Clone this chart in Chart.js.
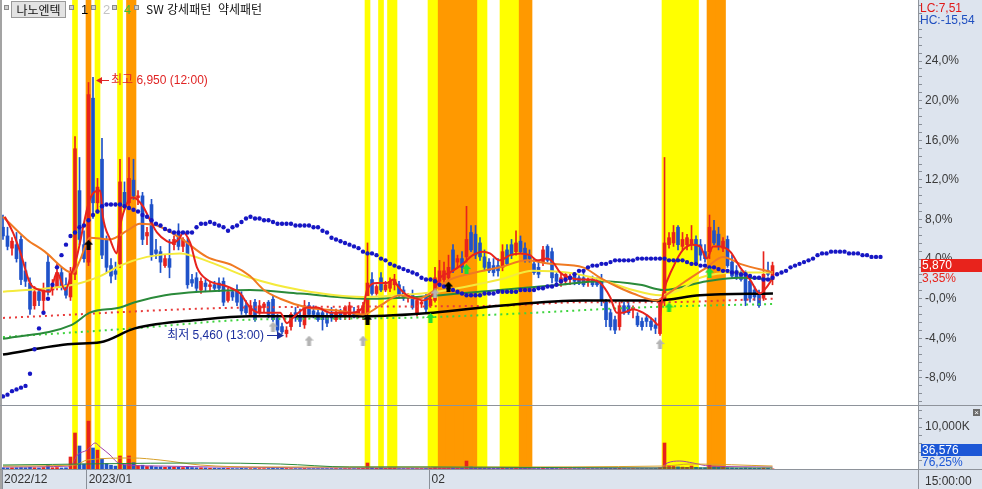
<!DOCTYPE html>
<html lang="ko">
<head>
<meta charset="utf-8">
<title>나노엔텍</title>
<script src="https://cdn.jsdelivr.net/npm/chart.js@4.4.1/dist/chart.umd.min.js"></script>
<style>
  html, body { margin: 0; padding: 0; background: #fff; }
  body { position: relative; width: 982px; height: 489px; overflow: hidden;
         font-family: "Liberation Sans", "Noto Sans CJK KR", sans-serif; font-size: 12px; }
  .abs { position: absolute; white-space: nowrap; line-height: 12px; z-index: 3; }
  .bg { position: absolute; background: #dde4ee; z-index: 0; }
  canvas { position: absolute; left: 0; z-index: 1; }
  .ln { position: absolute; background: #8e939b; z-index: 2; }
  .sq { position: absolute; top: 5px; width: 3px; height: 3px; background: #cfcfcf; border: 1px solid #8a8a8a; z-index: 3; }
  .kr { font-family: "Noto Sans CJK KR", sans-serif; }
</style>
</head>
<body>
<div class="bg" style="left:918px;top:0;width:64px;height:489px"></div>
<div class="bg" style="left:0;top:469px;width:982px;height:20px"></div>

<canvas id="mainChart" width="982" height="406" style="top:0"></canvas>
<canvas id="volChart" width="982" height="83" style="top:406px"></canvas>

<div class="ln" style="left:0;top:0;width:2px;height:489px;background:#a3a3a3"></div>
<div class="ln" style="left:0;top:405px;width:982px;height:1px"></div>
<div class="ln" style="left:0;top:469px;width:982px;height:1px"></div>
<div class="ln" style="left:918px;top:0;width:1px;height:489px"></div>

<!-- legend row -->
<div class="sq" style="left:4px"></div>
<div class="abs kr" style="left:11px;top:1px;width:53px;height:15px;line-height:15px;background:#e3e3e3;border:1px solid #9a9a9a;text-align:center;font-size:12px;color:#111">나노엔텍</div>
<div class="sq" style="left:69px"></div>
<div class="abs" style="left:81px;top:4px;color:#000;font-size:13px">1</div>
<div class="sq" style="left:91px"></div>
<div class="abs" style="left:103px;top:4px;color:#c4c4c4;font-size:13px">2</div>
<div class="sq" style="left:112px"></div>
<div class="abs" style="left:124px;top:4px;color:#44c23a;font-size:13px">4</div>
<div class="sq" style="left:134px"></div>
<div class="abs kr" style="left:146px;top:3px;color:#111">SW 강세패턴</div>
<div class="abs kr" style="left:218px;top:3px;color:#111">약세패턴</div>

<!-- right axis info -->
<div class="abs" style="left:920px;top:2px;color:#e01818">LC:7,51</div>
<div class="abs" style="left:920px;top:14px;color:#1f4fc0">HC:-15,54</div>
<div class="abs" style="left:921px;top:259px;width:61px;height:13px;line-height:13px;background:#e8231c;color:#fff;padding-left:1px">5,870</div>
<div class="abs" style="left:922px;top:272px;color:#e8231c">3,35%</div>
<div class="abs" style="left:921px;top:444px;width:61px;height:12px;background:#1c57d6;color:#fff;padding-left:1px">36,576</div>
<div class="abs" style="left:922px;top:456px;color:#1c57d6">76,25%</div>
<div class="abs" style="left:925px;top:475px;color:#333">15:00:00</div>
<div class="abs" style="left:973px;top:409px;width:7px;height:7px;line-height:7px;background:#6b6b6b;color:#fff;font-size:8px;text-align:center">×</div>

<script>
// ---- data (prices in won, volume in thousand shares) ----
const basePrice = 5680;

const opens = [
  6090, 6040, 5970, 5990, 6020, 5840, 5770, 5640, 5720, 5670,
  5890, 5730, 5750, 5830, 5760, 5690, 5820, 6300, 5990, 5890,
  6830, 6230, 6480, 6020, 5870, 5840, 5880, 6290, 6230, 6360,
  6260, 6270, 6040, 6220, 5960, 5950, 5870, 5910, 5990, 6060,
  5980, 6010, 5790, 5800, 5730, 5770, 5750, 5760, 5770, 5780,
  5670, 5720, 5730, 5700, 5640, 5590, 5660, 5600, 5630, 5660,
  5680, 5570, 5520, 5480, 5520, 5600, 5580, 5530, 5640, 5610,
  5600, 5600, 5580, 5600, 5560, 5600, 5580, 5580, 5600, 5590,
  5580, 5600, 5790, 5710, 5800, 5730, 5740, 5760, 5760, 5730,
  5680, 5700, 5600, 5650, 5690, 5640, 5670, 5780, 5790, 5800,
  5960, 5890, 5910, 5920, 6060, 6050, 6000, 5920, 5890, 5870,
  5870, 5860, 5960, 5990, 5950, 6010, 5970, 5930, 5880, 5860,
  5890, 5980, 5950, 5820, 5770, 5780, 5790, 5810, 5800, 5800,
  5780, 5790, 5780, 5790, 5660, 5600, 5560, 5520, 5640, 5640,
  5620, 5580, 5550, 5570, 5550, 5530, 5480, 5670, 5990, 6000,
  6090, 5980, 5990, 5990, 6020, 5990, 5950, 5950, 6070, 6050,
  5970, 6020, 5890, 5840, 5820, 5830, 5780, 5730, 5710, 5680,
  5840, 5790
];
const highs = [
  6160, 6090, 6030, 6060, 6040, 5890, 5800, 5750, 5740, 5770,
  5930, 5790, 5880, 5860, 5800, 5860, 6610, 6490, 6070, 6920,
  6950, 6370, 6600, 6040, 5910, 5890, 6480, 6350, 6490, 6480,
  6300, 6290, 6090, 6250, 6020, 5980, 5930, 6020, 6040, 6110,
  6030, 6030, 5820, 5830, 5800, 5790, 5780, 5780, 5800, 5800,
  5740, 5740, 5760, 5720, 5670, 5670, 5680, 5670, 5660, 5670,
  5700, 5590, 5540, 5520, 5600, 5630, 5620, 5670, 5660, 5640,
  5630, 5620, 5600, 5630, 5620, 5620, 5640, 5660, 5630, 5640,
  5660, 6000, 5830, 5760, 5830, 5780, 5800, 5820, 5780, 5750,
  5710, 5730, 5680, 5670, 5710, 5700, 5860, 5900, 5890, 5930,
  5990, 5930, 5950, 6210, 6100, 6100, 6030, 5960, 5910, 5910,
  5910, 5990, 5990, 6020, 6070, 6040, 6000, 5960, 5910, 5890,
  5980, 5990, 5970, 5830, 5820, 5830, 5820, 5830, 5820, 5840,
  5800, 5810, 5800, 5820, 5680, 5620, 5580, 5660, 5660, 5660,
  5640, 5600, 5570, 5590, 5570, 5570, 5680, 6490, 6060, 6100,
  6100, 6060, 6050, 6100, 6040, 6020, 5990, 6160, 6130, 6090,
  6030, 6040, 5930, 5870, 5840, 5840, 5800, 5750, 5730, 5950,
  5890, 5890
];
const lows = [
  6020, 5960, 5930, 5890, 5760, 5750, 5590, 5620, 5640, 5600,
  5700, 5700, 5730, 5730, 5680, 5670, 5790, 5990, 5890, 5870,
  6140, 6170, 5910, 5830, 5770, 5790, 5860, 6190, 6200, 6250,
  6220, 5990, 5990, 5900, 5910, 5830, 5860, 5800, 5960, 5960,
  5950, 5740, 5750, 5720, 5710, 5720, 5720, 5730, 5720, 5640,
  5660, 5670, 5640, 5590, 5590, 5580, 5550, 5590, 5600, 5570,
  5550, 5490, 5480, 5460, 5500, 5550, 5520, 5510, 5580, 5570,
  5550, 5500, 5520, 5550, 5550, 5560, 5560, 5560, 5570, 5570,
  5560, 5570, 5700, 5700, 5720, 5720, 5720, 5730, 5680, 5670,
  5660, 5620, 5580, 5630, 5600, 5630, 5660, 5760, 5770, 5780,
  5830, 5860, 5830, 5890, 5950, 5910, 5900, 5840, 5830, 5810,
  5810, 5840, 5870, 5910, 5930, 5940, 5890, 5890, 5820, 5800,
  5870, 5890, 5770, 5760, 5750, 5760, 5760, 5760, 5760, 5750,
  5750, 5750, 5750, 5640, 5520, 5500, 5480, 5500, 5590, 5590,
  5570, 5520, 5500, 5520, 5500, 5480, 5470, 5640, 5970, 5980,
  5960, 5960, 5960, 5960, 5870, 5900, 5890, 5910, 5990, 5960,
  5950, 5860, 5800, 5790, 5780, 5640, 5660, 5670, 5630, 5670,
  5810, 5760
];
const closes = [
  6040, 5980, 6010, 5910, 5790, 5780, 5620, 5720, 5670, 5730,
  5720, 5750, 5830, 5750, 5700, 5830, 6540, 6020, 5910, 6850,
  6230, 6320, 5930, 5860, 5810, 5820, 6350, 6210, 6370, 6270,
  6270, 6020, 6060, 5930, 5940, 5890, 5910, 5860, 6020, 5980,
  6020, 5760, 5770, 5740, 5780, 5750, 5760, 5740, 5740, 5660,
  5720, 5690, 5660, 5610, 5600, 5640, 5560, 5640, 5650, 5590,
  5560, 5500, 5490, 5500, 5590, 5570, 5550, 5640, 5590, 5590,
  5560, 5560, 5540, 5570, 5600, 5580, 5630, 5640, 5590, 5620,
  5640, 5770, 5710, 5750, 5730, 5760, 5780, 5790, 5700, 5680,
  5700, 5630, 5670, 5660, 5620, 5680, 5800, 5840, 5840, 5860,
  5840, 5910, 5860, 6020, 5960, 5930, 5920, 5860, 5840, 5830,
  5840, 5950, 5880, 5930, 6000, 5950, 5900, 5910, 5830, 5820,
  5960, 5900, 5800, 5780, 5800, 5820, 5810, 5780, 5770, 5760,
  5790, 5760, 5760, 5670, 5560, 5520, 5500, 5640, 5600, 5600,
  5630, 5530, 5520, 5550, 5520, 5510, 5670, 6000, 6030, 6060,
  5990, 6020, 6030, 6020, 5890, 5930, 5910, 6090, 6000, 5980,
  6010, 5870, 5810, 5800, 5790, 5670, 5680, 5690, 5640, 5820,
  5820, 5870
];
const volumes = [
  300, 250, 280, 300, 350, 300, 400, 300, 250, 350,
  1000, 300, 350, 250, 300, 2860, 8570, 5480, 1200, 11400,
  5000, 4500, 2400, 1300, 900, 700, 3100, 1000, 3100, 1500,
  800, 900, 600, 700, 500, 500, 400, 500, 450, 400,
  350, 500, 350, 300, 300, 250, 200, 200, 150, 200,
  150, 120, 100, 150, 120, 100, 120, 100, 100, 120,
  150, 120, 150, 120, 100, 100, 100, 120, 100, 100,
  100, 100, 100, 100, 100, 100, 100, 100, 100, 120,
  150, 1430, 300, 200, 300, 150, 250, 250, 100, 100,
  100, 100, 100, 100, 120, 150, 400, 300, 250, 300,
  250, 200, 200, 1900, 500, 400, 300, 200, 150, 150,
  150, 200, 150, 150, 200, 150, 150, 120, 120, 120,
  150, 120, 150, 120, 100, 100, 100, 100, 100, 100,
  100, 100, 100, 120, 150, 150, 150, 150, 120, 100,
  100, 100, 100, 100, 100, 120, 300, 6190, 800, 600,
  500, 450, 400, 700, 400, 300, 300, 900, 500, 400,
  400, 300, 250, 200, 200, 250, 200, 150, 150, 200,
  150, 37
];

// leading span dots, one per bar (runs 24 bars past the last candle)
const spanDots = [
  5120, 5130, 5150, 5160, 5170, 5180, 5250, 5390, 5510, 5600,
  5680, 5760, 5860, 5930, 5990, 6040, 6060, 6090, 6100, 6130,
  6160, 6180, 6210, 6220, 6220, 6220, 6220, 6210, 6200, 6190,
  6180, 6160, 6150, 6130, 6110, 6100, 6080, 6070, 6060, 6060,
  6060, 6060, 6060, 6090, 6110, 6110, 6120, 6110, 6100, 6090,
  6070, 6090, 6100, 6120, 6140, 6150, 6140, 6140, 6130, 6130,
  6120, 6110, 6110, 6110, 6110, 6100, 6100, 6100, 6100, 6090,
  6090, 6070, 6060, 6030, 6020, 6010, 6000, 5990, 5980, 5970,
  5950, 5940, 5940, 5930, 5910, 5900, 5880, 5870, 5860, 5850,
  5840, 5830, 5820, 5800, 5790, 5790, 5780, 5760, 5750, 5740,
  5730, 5720, 5710, 5700, 5700, 5700, 5700, 5710, 5710, 5710,
  5720, 5720, 5720, 5720, 5720, 5730, 5730, 5730, 5730, 5740,
  5740, 5750, 5750, 5760, 5780, 5790, 5800, 5820, 5840, 5840,
  5860, 5870, 5870, 5880, 5880, 5890, 5900, 5900, 5900, 5900,
  5900, 5910, 5910, 5910, 5910, 5910, 5910, 5910, 5900, 5900,
  5900, 5900, 5890, 5880, 5880, 5870, 5870, 5860, 5860, 5850,
  5840, 5840, 5830, 5830, 5820, 5820, 5810, 5800, 5800, 5790,
  5790, 5800, 5820, 5830, 5840, 5860, 5870, 5880, 5890, 5900,
  5910, 5930, 5940, 5940, 5950, 5950, 5950, 5950, 5940, 5940,
  5940, 5930, 5930, 5920, 5920, 5920
];

// moving averages read as [bar index, price]
const ma5Line = [[0.4,6150],[2.2,6060],[3.8,5950],[6,5770],[8.2,5730],[10.4,5720],[12,5830],[13.8,5730],[15.3,5830],[16.4,5920],[19.3,6250],[21.6,6300],[22.2,6150],[23.8,6020],[25.3,5940],[26,6090],[27.6,6230],[28.9,6260],[31.1,6210],[32.7,6130],[34.2,6060],[36.4,6010],[37.8,6000],[39.3,6030],[40,6060],[41.6,6000],[43.1,5860],[45.3,5790],[49.8,5750],[52.7,5710],[54.9,5630],[57.1,5600],[61.6,5600],[63.1,5540],[64.4,5570],[67.6,5630],[69.8,5630],[72.7,5600],[77.1,5600],[80,5630],[80.9,5730],[83.1,5770],[85.3,5770],[86.7,5790],[87.8,5750],[89.8,5700],[92,5680],[93.3,5670],[95.3,5700],[97.1,5800],[99.3,5830],[102.2,5880],[104.4,5930],[106.7,5950],[108.2,5940],[110.4,5900],[112.7,5930],[114.9,5940],[117.1,5930],[118.7,5900],[120.9,5910],[122.2,5890],[123.8,5830],[126,5800],[128.2,5790],[130.4,5790],[132.7,5770],[134.9,5690],[136.4,5600],[137.8,5600],[140,5620],[142.2,5600],[144.4,5560],[145.6,5530],[146.7,5710],[148.9,5860],[151.1,5960],[153.3,5990],[154.9,5980],[156.4,5910],[157.8,5980],[159.3,5980],[161.6,5950],[163.8,5860],[166,5790],[168.2,5710],[169.8,5750],[171.1,5800]];
const ma10Line = [[0,6150],[5.3,6020],[9.3,5950],[14.2,5840],[15.6,5830],[17.1,5900],[19.3,6030],[23.8,6020],[27.6,6070],[30.4,6110],[34.2,6100],[39.3,6030],[45.3,5920],[51.1,5870],[54.9,5810],[58,5730],[61.6,5680],[67.6,5630],[74.9,5610],[80,5590],[83.8,5640],[88.2,5700],[92,5680],[99.3,5790],[106.7,5840],[110.4,5860],[116.4,5900],[121.6,5880],[128.9,5860],[132.7,5800],[136.4,5750],[140,5710],[145.3,5670],[146.7,5690],[151.1,5770],[156.4,5860],[160,5920],[163.8,5880],[171.1,5830]];
const ma20Line = [[0,5720],[15.6,5760],[21.6,5810],[26,5870],[32,5920],[39.3,5940],[46,5890],[54.9,5800],[66,5730],[80,5690],[88.2,5700],[96.4,5720],[110.4,5790],[117.8,5840],[125.3,5830],[132.7,5790],[140,5730],[146,5700],[150.4,5730],[154.9,5800],[163.8,5830],[171.1,5830]];
const ma60Line = [[0,5450],[15.3,5530],[19.3,5600],[26,5630],[29.3,5660],[36,5700],[43.8,5720],[54.9,5730],[66,5710],[81,5680],[92,5690],[110.4,5730],[123.8,5760],[132.7,5780],[141.6,5760],[146.7,5730],[156.4,5780],[163.8,5800],[171.1,5790]];
const ma120Line = [[0,5360],[15.3,5420],[21.6,5430],[29.3,5510],[43.8,5560],[54.9,5580],[80,5580],[95.6,5600],[110.4,5640],[128.9,5670],[145.3,5670],[154.9,5700],[171.1,5710]];
const redDotLine = [[0,5570],[54.9,5630],[110.4,5640],[128.9,5660],[145.3,5660],[171.1,5680]];
const greenDotLine = [[0,5460],[28.9,5510],[54.9,5560],[88.2,5570],[110.4,5590],[141.6,5630],[171.1,5650]];

// volume averages [bar index, thousand shares]
const volMa5Line = [[0,480],[15,710],[16.5,3330],[18.7,4520],[20.5,6190],[21.6,5240],[23.8,3330],[25.3,1670],[27.6,950],[35,710],[46,480],[88,240],[146,240],[147.6,1430],[150.4,1900],[153.3,1430],[157,710],[171,480]];
const volMa20Line = [[0,710],[16,950],[18.7,2140],[28.9,2620],[34.9,2140],[43.8,950],[57.1,480],[106,480],[147,710],[152.7,1190],[171,710]];
const volMa60Line = [[0,950],[43.8,1430],[61.6,1190],[77,480],[95,480],[144,240],[171,240]];

// pattern bands as [first bar, last bar]
const bullBands = [[16,16],[21,21],[26,26],[81,81],[84,84],[86,87],[95,96],[106,107],[111,114],[147,154]];
const bearBands = [[19,19],[28,29],[97,105],[115,117],[157,160]];

// signal arrows [bar index, price]
const blackSignals = [[19,5990],[81,5560],[99,5750]];
const graySignals = [[60,5520],[68,5440],[80,5440],[96,5710],[146,5420]];
const greenSignals = [[95,5570],[103,5850],[148,5630],[157,5830]];

const highNote = { idx: 20, price: 6950, text: '최고 6,950 (12:00)' };
const lowNote = { idx: 63, price: 5460, text: '최저 5,460 (13:00)' };

const monthTickIdx = [-0.2, 18.6, 94.8];
const monthLabels = ['2022/12', '2023/01', '02'];
const pctMajors = [-8, -4, 0, 4, 8, 12, 16, 20, 24];
const volTicks = [2000, 4000, 6000, 8000, 10000, 12000, 14000];
const volLabels = { 10000: '10,000K' };

// ---- setup ----
const RED = '#e8231c', BLUE = '#1f52c9', AXIS = '#8a9099';
const FONT = '"Liberation Sans", "Noto Sans CJK KR", sans-serif';
const xMin = -0.222, xMax = 203.33;
const yMinPct = -10.83, yMaxPct = 30.16;
const volMax = 15000;

Chart.defaults.font.family = FONT;
Chart.defaults.font.size = 12;
Chart.defaults.color = '#333';

const toPct = p => (p / basePrice - 1) * 100;
const pctPts = pts => pts.map(([i, p]) => ({ x: i, y: toPct(p) }));
const rawPts = pts => pts.map(([i, v]) => ({ x: i, y: v }));
const idx = opens.map((_, i) => i);
const candleCol = idx.map(i => closes[i] >= opens[i] ? RED : BLUE);

function expand(ranges) {
  const out = [];
  ranges.forEach(([a, b]) => { for (let i = a; i <= b; i++) out.push(i); });
  return out;
}

function arrowImg(fill) {
  const c = document.createElement('canvas');
  c.width = 9; c.height = 10;
  const g = c.getContext('2d');
  g.fillStyle = fill;
  g.beginPath();
  g.moveTo(4.5, 0); g.lineTo(9, 5); g.lineTo(6.5, 5); g.lineTo(6.5, 10);
  g.lineTo(2.5, 10); g.lineTo(2.5, 5); g.lineTo(0, 5); g.closePath();
  g.fill();
  return c;
}

const yTickVals = [];
for (let k = -13; k <= 37; k++) yTickVals.push(Math.round(k * 8) / 10);
const fmtPct = v => v === 0 ? '-0,0%' : v.toFixed(1).replace('.', ',') + '%';

const lineDs = (pts, color, width, order, dash) => ({
  type: 'line', data: pctPts(pts), borderColor: color, borderWidth: width,
  pointRadius: 0, cubicInterpolationMode: 'monotone', borderDash: dash || [],
  fill: false, order
});
const bandDs = (ranges, color, lo, hi) => ({
  type: 'bar', data: expand(ranges).map(i => ({ x: i, y: [lo, hi] })),
  backgroundColor: color, barThickness: 5, grouped: false, order: 100
});
const signalDs = (pts, color) => ({
  type: 'line', showLine: false, data: pctPts(pts),
  pointStyle: arrowImg(color), pointRadius: 5, order: 1
});

const notesPlugin = {
  id: 'hiLoNotes',
  afterDatasetsDraw(chart) {
    const { ctx, scales: { x, y } } = chart;
    ctx.save();
    ctx.font = '12px ' + FONT;
    ctx.textBaseline = 'middle';
    ctx.lineWidth = 1;

    let px = Math.round(x.getPixelForValue(highNote.idx)) + 3;
    let py = Math.round(y.getPixelForValue(toPct(highNote.price))) + 3.5;
    ctx.strokeStyle = ctx.fillStyle = '#e02424';
    ctx.beginPath(); ctx.moveTo(px + 4, py); ctx.lineTo(px + 13, py); ctx.stroke();
    ctx.beginPath(); ctx.moveTo(px, py); ctx.lineTo(px + 6, py - 3.5); ctx.lineTo(px + 6, py + 3.5); ctx.closePath(); ctx.fill();
    ctx.textAlign = 'left';
    ctx.fillText(highNote.text, px + 15, py);

    px = Math.round(x.getPixelForValue(lowNote.idx)) - 3;
    py = Math.round(y.getPixelForValue(toPct(lowNote.price))) - 1.5;
    ctx.strokeStyle = ctx.fillStyle = '#1c2f9e';
    ctx.beginPath(); ctx.moveTo(px - 17, py); ctx.lineTo(px - 4, py); ctx.stroke();
    ctx.beginPath(); ctx.moveTo(px, py); ctx.lineTo(px - 7, py - 4); ctx.lineTo(px - 7, py + 4); ctx.closePath(); ctx.fill();
    ctx.textAlign = 'right';
    ctx.fillText(lowNote.text, px - 20, py);
    ctx.restore();
  }
};

const baseOpts = {
  responsive: false, animation: false, devicePixelRatio: 1, events: [],
  plugins: { legend: { display: false }, tooltip: { enabled: false } }
};

new Chart(document.getElementById('mainChart'), {
  type: 'bar',
  data: {
    datasets: [
      bandDs(bullBands, '#ffff00', yMinPct, yMaxPct),
      bandDs(bearBands, '#ff9900', yMinPct, yMaxPct),
      { type: 'bar', data: idx.map(i => ({ x: i, y: [toPct(lows[i]), toPct(highs[i])] })),
        backgroundColor: candleCol, barThickness: 1, grouped: false, order: 41 },
      { type: 'bar', data: idx.map(i => ({ x: i, y: [toPct(opens[i]), toPct(closes[i])] })),
        backgroundColor: candleCol, barThickness: 3, minBarLength: 1, grouped: false, order: 40 },
      lineDs(redDotLine, '#e83a3a', 2, 33, [2, 4]),
      lineDs(greenDotLine, '#3fd43f', 2, 33, [2, 4]),
      lineDs(ma120Line, '#000000', 2.5, 30),
      lineDs(ma60Line, '#2a8a3a', 2, 29),
      lineDs(ma20Line, '#f4ea3c', 2, 28),
      lineDs(ma10Line, '#f07a22', 2, 27),
      lineDs(ma5Line, '#e8231c', 2, 26),
      { type: 'line', showLine: false, data: spanDots.map((p, i) => ({ x: i, y: toPct(p) })),
        pointRadius: 2.2, pointBackgroundColor: '#1616c4', pointBorderWidth: 0, order: 10 },
      signalDs(graySignals, '#b4b4b4'),
      signalDs(blackSignals, '#000000'),
      signalDs(greenSignals, '#22dd33')
    ]
  },
  options: {
    ...baseOpts,
    layout: { autoPadding: false, padding: { left: 2, top: 0, right: 0, bottom: 0 } },
    scales: {
      x: { type: 'linear', min: xMin, max: xMax, offset: false, display: false, grid: { offset: false } },
      y: {
        type: 'linear', position: 'right', min: yMinPct, max: yMaxPct,
        afterBuildTicks: s => { s.ticks = yTickVals.map(v => ({ value: v })); },
        afterFit: s => { s.width = 64; s.paddingTop = 0; s.paddingBottom = 0; },
        grid: { drawOnChartArea: false, tickLength: 4, color: AXIS },
        border: { color: AXIS },
        ticks: {
          autoSkip: false, padding: 3, color: '#3a3a3a',
          callback: v => pctMajors.includes(Math.round(v * 10) / 10) ? fmtPct(Math.round(v * 10) / 10) : ''
        }
      }
    }
  },
  plugins: [notesPlugin]
});

const volLine = (pts, color) => ({
  type: 'line', data: rawPts(pts), borderColor: color, borderWidth: 1,
  pointRadius: 0, cubicInterpolationMode: 'monotone', fill: false, order: 5
});

new Chart(document.getElementById('volChart'), {
  type: 'bar',
  data: {
    datasets: [
      bandDs(bullBands, '#ffff00', 0, volMax),
      bandDs(bearBands, '#ff9900', 0, volMax),
      { type: 'bar', data: idx.map(i => ({ x: i, y: volumes[i] })),
        backgroundColor: candleCol, barThickness: 3, grouped: false, order: 20 },
      volLine(volMa60Line, '#2a8a3a'),
      volLine(volMa20Line, '#d7a02a'),
      volLine(volMa5Line, '#a23fa8')
    ]
  },
  options: {
    ...baseOpts,
    layout: { autoPadding: false, padding: { left: 2, top: 0, right: 0, bottom: 0 } },
    scales: {
      x: {
        type: 'linear', min: xMin, max: xMax, offset: false, position: 'bottom',
        afterBuildTicks: s => { s.ticks = monthTickIdx.map(v => ({ value: v })); },
        afterFit: s => { s.height = 20; s.paddingLeft = 0; s.paddingRight = 0; },
        grid: { drawOnChartArea: false, tickLength: 20, color: AXIS, offset: false },
        border: { color: AXIS },
        ticks: {
          autoSkip: false, maxRotation: 0, minRotation: 0, align: 'start',
          padding: -17, labelOffset: 2, color: '#333',
          callback: (v, i) => monthLabels[i]
        }
      },
      y: {
        type: 'linear', position: 'right', min: 0, max: volMax,
        afterBuildTicks: s => { s.ticks = volTicks.map(v => ({ value: v })); },
        afterFit: s => { s.width = 64; s.paddingTop = 0; s.paddingBottom = 0; },
        grid: { drawOnChartArea: false, tickLength: 4, color: AXIS },
        border: { color: AXIS },
        ticks: { autoSkip: false, padding: 3, color: '#3a3a3a', callback: v => volLabels[v] || '' }
      }
    }
  }
});
</script>
</body>
</html>
